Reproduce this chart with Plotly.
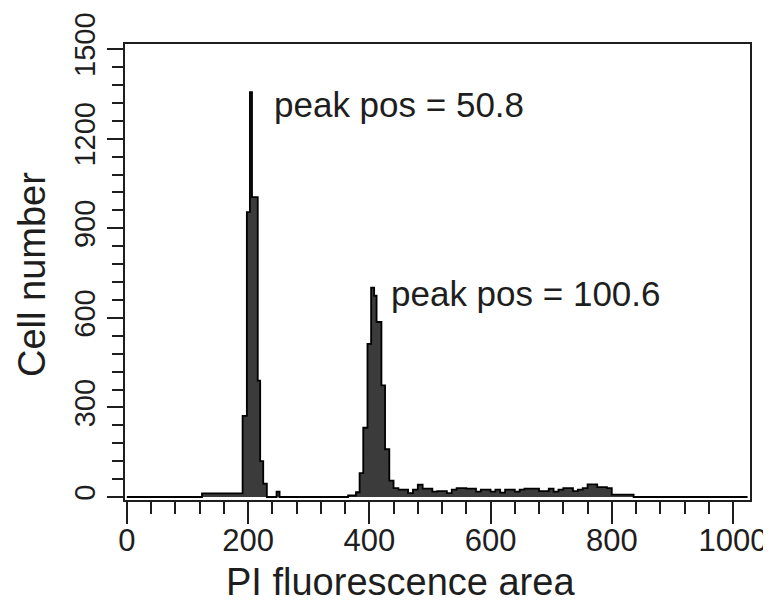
import plotly.graph_objects as go

# Histogram bin left edges (PI fluorescence area) and cell counts
bin_edges = [0, 124, 191, 198, 203, 206.5, 216, 220, 225, 231, 247, 252,
             365, 378, 384, 390, 397, 403, 408, 412, 420, 426, 433,
             440, 448, 456, 464, 472, 480, 488, 496, 504, 512, 520, 528, 536, 544,
             552, 560, 568, 576, 584, 592, 600, 608, 616, 624, 632, 640, 648, 656,
             664, 672, 680, 688, 696, 704, 712, 720, 728, 736, 744, 752, 760, 768,
             776, 784, 792, 800, 836, 1024]
cell_counts = [0, 12, 272, 954, 1356, 1004, 390, 120, 45, 0, 18, 0,
               5, 16, 80, 232, 513, 701, 674, 586, 374, 160, 55,
               30, 25, 25, 13, 25, 41, 28, 28, 18, 20, 20, 13, 25, 30,
               30, 28, 28, 18, 25, 25, 18, 25, 15, 25, 25, 18, 25, 28,
               28, 28, 20, 20, 28, 18, 25, 30, 30, 20, 25, 30, 42, 42,
               33, 33, 30, 8, 0, 0]

annotations_text = ["peak pos = 50.8", "peak pos = 100.6"]
annotations_x = [240, 433]
annotations_y = [1315, 680]

x_major = [0, 200, 400, 600, 800, 1000]
y_major = [0, 300, 600, 900, 1200, 1500]

x_title = "PI fluorescence area"
y_title = "Cell number"

FONT = "Liberation Sans, Arial, Helvetica, sans-serif"
INK = "#1e1e1e"

fig = go.Figure()
fig.add_trace(go.Scatter(
    x=bin_edges, y=cell_counts, mode="lines", line_shape="hv",
    line=dict(color="black", width=1.8),
    fill="tozeroy", fillcolor="#3b3b3b", hoverinfo="skip", showlegend=False))

for t, ax, ay in zip(annotations_text, annotations_x, annotations_y):
    fig.add_annotation(x=ax, y=ay, text=t, showarrow=False, xanchor="left",
                       yanchor="middle", font=dict(size=35, color=INK, family=FONT))

fig.add_annotation(xref="paper", yref="paper", x=0.44, y=-0.18, text=x_title,
                   showarrow=False, xanchor="center", yanchor="middle",
                   font=dict(size=38, color=INK, family=FONT))
fig.add_annotation(xref="paper", yref="paper", x=-0.15, y=0.494, text=y_title,
                   showarrow=False, xanchor="center", yanchor="middle", textangle=-90,
                   font=dict(size=38, color=INK, family=FONT))

fig.update_xaxes(range=[-3, 1028], tickvals=x_major, ticktext=[str(v) for v in x_major],
                 ticks="outside", ticklen=22, tickwidth=2, tickcolor=INK,
                 minor=dict(dtick=40, tick0=0, ticks="outside", ticklen=12, tickwidth=2, tickcolor=INK),
                 showline=True, linecolor=INK, linewidth=2, mirror=True,
                 showgrid=False, zeroline=False, automargin=False,
                 ticklabeloverflow="allow", ticklabelstandoff=-10,
                 tickfont=dict(size=31, color=INK, family=FONT))
fig.update_yaxes(range=[-10, 1517], tickvals=y_major, ticktext=[str(v) for v in y_major],
                 ticks="outside", ticklen=16, tickwidth=2, tickcolor=INK,
                 minor=dict(dtick=60, tick0=0, ticks="outside", ticklen=11, tickwidth=2, tickcolor=INK),
                 showline=True, linecolor=INK, linewidth=2, mirror=True,
                 showgrid=False, zeroline=False, tickangle=-90, automargin=False,
                 ticklabeloverflow="allow",
                 tickfont=dict(size=29, color=INK, family=FONT))

fig.update_layout(width=763, height=600, margin=dict(l=117, r=21, t=36, b=108, autoexpand=False),
                  plot_bgcolor="white", paper_bgcolor="white", showlegend=False)

fig.write_html("out.html")
